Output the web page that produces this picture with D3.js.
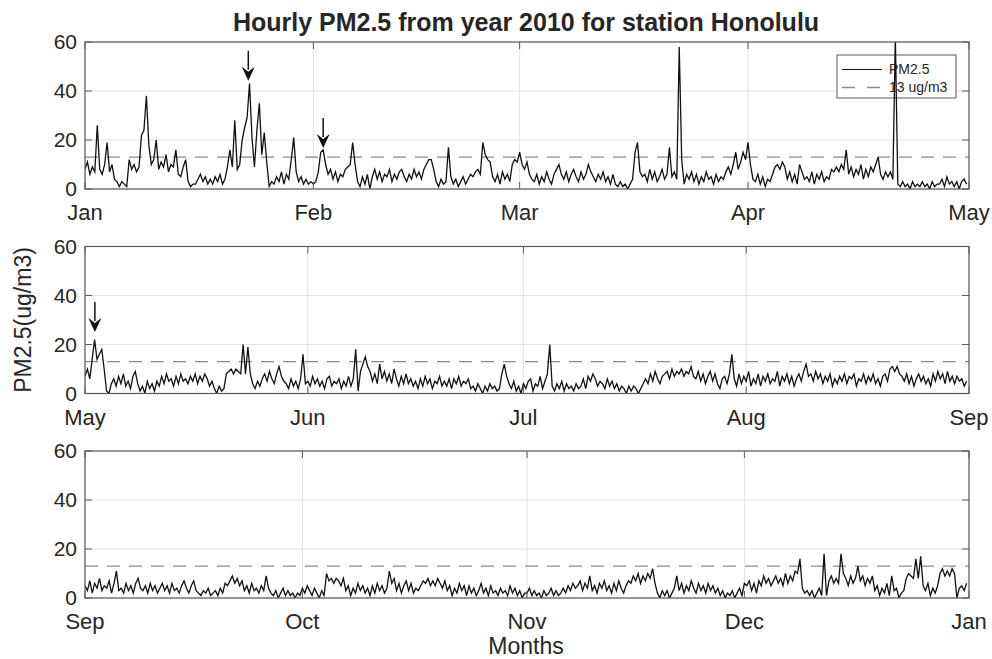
<!DOCTYPE html>
<html><head><meta charset="utf-8">
<script src="https://cdn.jsdelivr.net/npm/d3@7"></script>
<style>
body{margin:0;background:#fff}
svg{display:block}
text{font-family:"Liberation Sans",Arial,Helvetica,sans-serif;fill:#262626}
</style>
</head><body>
<svg id="chart" width="992" height="659"></svg>
<script>
// ---------------- data ----------------
const chartTitle = "Hourly PM2.5 from year 2010 for station Honolulu";
const yLabel = "PM2.5(ug/m3)";
const xLabel = "Months";
const seriesName = "PM2.5";
const thresholdName = "13 ug/m3";
const threshold = 13;
const yTicks = [0, 20, 40, 60];
const panelStarts = ["2010-01-01", "2010-05-01", "2010-09-01"];
const panelEnds = ["2010-05-01", "2010-09-01", "2011-01-01"];
const stepHours = 8; // one value every 8 hours

const pm25JanApr = [
 8,11,6, 9,7,26, 8,6,10, 19,7,10, 4,3,1, 3,2,1, 12,8,10, 7,9,22, 24,38,18, 10,12,20,
 8,11,9, 14,7,10, 9,16,6, 5,9,12, 3,1,2, 2,4,6, 3,5,2, 4,2,5, 3,6,2, 4,9,16,
 9,28,8, 10,20,25, 29,43,21, 9,24,35, 14,23,11, 1,3,2, 5,3,7, 2,6,4, 12,21,7, 3,5,2,
 4,2,3, 2,3,7, 15,16,10, 6,8,4, 7,3,6, 5,8,9, 10,19,10, 3,1,5, 2,6,0, 5,8,4,
 7,3,6, 5,8,3, 6,4,7, 8,5,3, 6,4,8, 5,7,4, 8,10,12, 12,8,3, 1,4,2, 3,17,5,
 2,4,1, 3,5,2, 4,6,5, 7,8,6, 19,14,12, 11,5,3, 6,2,7, 4,6,3, 10,12,11, 15,10,8,
 11,6,4, 3,6,2, 5,3,7, 4,2,6, 8,10,6, 4,7,3, 6,8,5, 3,7,4, 6,10,7, 5,3,6,
 4,7,3, 5,2,6, 2,1,3, 1,2,0, 2,4,15, 19,7,5, 6,3,8, 4,7,3, 5,8,4, 6,17,5,
 7,4,58, 12,2,6, 4,7,3, 6,2,5, 3,7,4, 5,2,6, 3,5,4, 7,9,6, 10,15,8, 11,15,12,
 19,10,4, 3,6,2, 5,1,4, 3,6,9, 10,8,11, 9,4,7, 3,6,2, 10,7,4, 5,3,7, 2,6,4,
 7,3,5, 4,8,7, 9,7,10, 8,16,6, 9,5,8, 6,10,4, 8,5,9, 7,10,13, 6,4,7, 5,7,4,
 62,2,1, 3,1,2, 0,3,1, 2,1,3, 1,2,0, 3,1,2, 2,4,1, 5,2,3, 1,3,0, 3,4,2
];
const pm25MayAug = [
 7,10,6, 14,22,14, 16,18,10, 1,0,4, 6,3,7, 4,8,3, 5,2,7, 9,4,1, 3,0,5, 2,4,1,
 5,3,7, 4,8,5, 6,3,7, 4,8,5, 6,4,7, 5,8,4, 7,5,8, 6,3,5, 2,0,3, 1,2,8,
 9,10,8, 10,9,8, 20,8,19, 8,4,2, 5,3,6, 8,5,9, 6,4,8, 11,7,5, 4,2,6, 3,5,2,
 6,16,4, 5,3,7, 4,6,3, 5,2,6, 7,3,5, 4,6,2, 5,3,7, 3,6,18, 1,9,12, 15,11,9,
 5,8,4, 12,6,9, 5,8,4, 10,6,3, 7,4,8, 4,6,3, 5,2,6, 3,7,4, 6,2,5, 4,7,3,
 5,3,6, 2,6,4, 7,3,5, 4,6,2, 3,1,4, 2,0,3, 1,4,2, 3,1,2, 8,12,7, 4,2,5,
 1,3,0, 4,2,5, 6,1,4, 3,7,2, 5,8,20, 3,1,4, 2,5,1, 4,2,3, 1,4,2, 3,6,2,
 7,5,8, 6,3,5, 4,2,6, 3,5,2, 4,1,3, 2,0,3, 1,3,2, 0,2,4, 6,4,8, 5,9,6,
 4,7,8, 9,6,10, 7,9,8, 10,7,9, 8,11,7, 6,9,5, 8,4,7, 9,5,8, 4,2,6, 7,4,8,
 16,6,3, 8,4,7, 5,9,3, 6,4,8, 3,7,5, 8,4,6, 5,9,3, 7,5,8, 4,7,3, 6,8,5,
 9,12,7, 8,5,9, 6,8,4, 7,5,8, 3,6,4, 7,5,8, 4,7,6, 8,3,6, 5,8,4, 7,5,8,
 4,6,3, 7,8,5, 10,11,9, 11,8,7, 5,8,4, 7,3,6, 8,5,7, 4,6,3, 8,5,9, 6,8,4,
 9,5,7, 4,7,5, 6,3,5
];
const pm25SepDec = [
 5,3,7, 2,6,4, 8,3,5, 4,7,2, 6,11,3, 4,2,6, 3,5,2, 6,8,4, 3,5,2, 6,3,5,
 2,4,6, 3,5,2, 6,3,4, 2,5,7, 4,2,5, 7,3,2, 1,3,2, 4,1,2, 3,1,4, 2,6,5,
 7,9,6, 8,5,7, 3,5,2, 6,3,4, 2,5,3, 9,4,2, 1,3,0, 2,4,1, 3,1,2, 0,2,1,
 4,2,5, 3,1,4, 2,0,3, 1,10,7, 8,6,8, 7,5,8, 3,5,1, 4,2,6, 3,5,2, 4,1,5,
 2,6,3, 5,2,4, 11,6,8, 3,6,2, 5,7,3, 6,2,4, 3,5,7, 6,8,5, 7,5,8, 6,4,7,
 3,5,1, 4,2,6, 3,5,1, 5,2,4, 1,3,6, 2,4,1, 5,2,3, 1,4,2, 3,1,5, 2,4,1,
 3,0,2, 2,4,1, 3,1,2, 0,3,1, 2,4,1, 3,1,2, 4,2,5, 3,6,4, 5,7,3, 6,4,9,
 3,5,2, 6,4,7, 3,5,2, 6,3,7, 4,2,5, 7,6,9, 7,10,6, 9,7,10, 8,12,6, 2,0,3,
 1,3,0, 2,4,9, 3,6,2, 5,3,7, 4,2,6, 3,5,2, 6,3,5, 2,4,1, 3,0,2, 1,3,0,
 2,4,1, 6,5,7, 3,6,2, 7,5,9, 6,8,5, 7,9,6, 8,5,10, 6,9,7, 11,10,16, 4,2,3,
 1,3,0, 2,4,1, 18,1,7, 9,6,8, 6,18,10, 8,5,9, 6,8,13, 7,9,5, 8,6,9, 3,5,1,
 4,2,6, 1,9,3, 4,0,2, 3,8,10, 9,8,16, 8,17,5, 3,6,1, 4,2,5, 10,12,9, 11,9,12,
 10,0,4, 5,3,6
];
// arrow annotations: panel index, time, value at arrow tip, value at arrow tail
const arrowPanels = [0, 0, 1];
const arrowTimes = ["2010-01-23T04:00:00Z", "2010-02-02T08:00:00Z", "2010-05-02T09:00:00Z"];
const arrowTips = [44.2, 16.7, 25.1];
const arrowTails = [56.4, 29, 37.3];

// ---------------- layout ----------------
const L = 85, R = 969;
const panelTops = [42, 246.5, 451];
const PH = 147;
const axisColor = "#5a5a5a";
const gridColor = "#e3e3e3";
const fontYTick = 21, fontXTick = 22;

const svg = d3.select("#chart");
const series = [pm25JanApr, pm25MayAug, pm25SepDec];
const scales = [];

series.forEach((vals, p) => {
  const t0 = new Date(panelStarts[p] + "T00:00:00Z");
  const t1 = new Date(panelEnds[p] + "T00:00:00Z");
  const x = d3.scaleUtc().domain([t0, t1]).range([L, R]);
  const y = d3.scaleLinear().domain([0, 60]).range([panelTops[p] + PH, panelTops[p]]);
  scales.push({x, y});
  const data = vals.map((v, i) => ({t: new Date(+t0 + i * stepHours * 3600e3), v}));
  const months = d3.utcMonth.range(t0, d3.utcDay.offset(t1, 1));

  const g = svg.append("g");
  const clipId = "clip" + p;
  g.append("clipPath").attr("id", clipId).append("rect")
    .attr("x", L).attr("y", panelTops[p]).attr("width", R - L).attr("height", PH);

  // grid
  g.append("g").selectAll("line").data(months).join("line")
    .attr("x1", d => x(d)).attr("x2", d => x(d))
    .attr("y1", y(60)).attr("y2", y(0))
    .attr("stroke", gridColor).attr("stroke-width", 1);
  g.append("g").selectAll("line").data(yTicks).join("line")
    .attr("x1", L).attr("x2", R)
    .attr("y1", d => y(d)).attr("y2", d => y(d))
    .attr("stroke", gridColor).attr("stroke-width", 1);

  // threshold dashed line
  g.append("line")
    .attr("x1", L).attr("x2", R)
    .attr("y1", y(threshold)).attr("y2", y(threshold))
    .attr("stroke", "#8a8a8a").attr("stroke-width", 1.4)
    .attr("stroke-dasharray", "13,9");

  // legend (top panel only), drawn below the data line
  if (p === 0) {
    const lx = 837, ly = 55, lw = 119, lh = 43;
    const lg = g.append("g");
    lg.append("rect").attr("x", lx).attr("y", ly).attr("width", lw).attr("height", lh)
      .attr("fill", "#fff").attr("stroke", axisColor).attr("stroke-width", 1);
    lg.append("line").attr("x1", lx + 5).attr("x2", lx + 45)
      .attr("y1", ly + 14.5).attr("y2", ly + 14.5)
      .attr("stroke", "#111").attr("stroke-width", 1);
    lg.append("line").attr("x1", lx + 5).attr("x2", lx + 45)
      .attr("y1", ly + 32.5).attr("y2", ly + 32.5)
      .attr("stroke", "#8a8a8a").attr("stroke-width", 1.4).attr("stroke-dasharray", "13,12");
    lg.append("text").attr("x", lx + 52).attr("y", ly + 14.5).attr("dy", "0.35em")
      .attr("font-size", 14).text(seriesName);
    lg.append("text").attr("x", lx + 52).attr("y", ly + 32.5).attr("dy", "0.35em")
      .attr("font-size", 14).text(thresholdName);
  }

  // data line
  const line = d3.line().x(d => x(d.t)).y(d => y(d.v));
  g.append("path").datum(data)
    .attr("clip-path", `url(#${clipId})`)
    .attr("d", line)
    .attr("fill", "none").attr("stroke", "#111").attr("stroke-width", 1.3)
    .attr("stroke-linejoin", "miter");

  // axes box
  g.append("rect").attr("x", L).attr("y", y(60)).attr("width", R - L).attr("height", PH)
    .attr("fill", "none").attr("stroke", axisColor).attr("stroke-width", 1.2);

  // ticks (inside, all four sides)
  const tk = 7;
  g.append("g").selectAll("line").data(yTicks).join("line")
    .attr("x1", L).attr("x2", L + tk).attr("y1", d => y(d)).attr("y2", d => y(d))
    .attr("stroke", axisColor);
  g.append("g").selectAll("line").data(yTicks).join("line")
    .attr("x1", R).attr("x2", R - tk).attr("y1", d => y(d)).attr("y2", d => y(d))
    .attr("stroke", axisColor);
  g.append("g").selectAll("line").data(months).join("line")
    .attr("x1", d => x(d)).attr("x2", d => x(d)).attr("y1", y(0)).attr("y2", y(0) - tk)
    .attr("stroke", axisColor);
  g.append("g").selectAll("line").data(months).join("line")
    .attr("x1", d => x(d)).attr("x2", d => x(d)).attr("y1", y(60)).attr("y2", y(60) + tk)
    .attr("stroke", axisColor);

  // tick labels
  g.append("g").selectAll("text").data(yTicks).join("text")
    .attr("x", L - 8).attr("y", d => y(d)).attr("dy", "0.35em")
    .attr("text-anchor", "end").attr("font-size", fontYTick)
    .text(d => d);
  const fmt = d3.utcFormat("%b");
  g.append("g").selectAll("text").data(months).join("text")
    .attr("x", d => x(d)).attr("y", y(0) + 31)
    .attr("text-anchor", "middle").attr("font-size", fontXTick)
    .text(d => fmt(d));
});

// arrows
arrowPanels.forEach((p, i) => {
  const {x, y} = scales[p];
  const ax = x(new Date(arrowTimes[i]));
  const tipY = y(arrowTips[i]), tailY = y(arrowTails[i]);
  const hl = 14, hw = 6.5;
  svg.append("line").attr("x1", ax).attr("x2", ax).attr("y1", tailY).attr("y2", tipY - hl + 3)
    .attr("stroke", "#111").attr("stroke-width", 1.5);
  svg.append("path")
    .attr("d", `M${ax},${tipY} L${ax - hw},${tipY - hl} L${ax},${tipY - hl + 5} L${ax + hw},${tipY - hl} Z`)
    .attr("fill", "#111");
});

// titles
svg.append("text").attr("x", 526).attr("y", 31).attr("text-anchor", "middle")
  .attr("font-size", 25).attr("font-weight", "bold").attr("fill", "#111").text(chartTitle);
svg.append("text").attr("x", 526).attr("y", 654).attr("text-anchor", "middle")
  .attr("font-size", 23).text(xLabel);
svg.append("text").attr("transform", "translate(31,320) rotate(-90)")
  .attr("text-anchor", "middle").attr("font-size", 23).text(yLabel);
</script>
</body></html>
